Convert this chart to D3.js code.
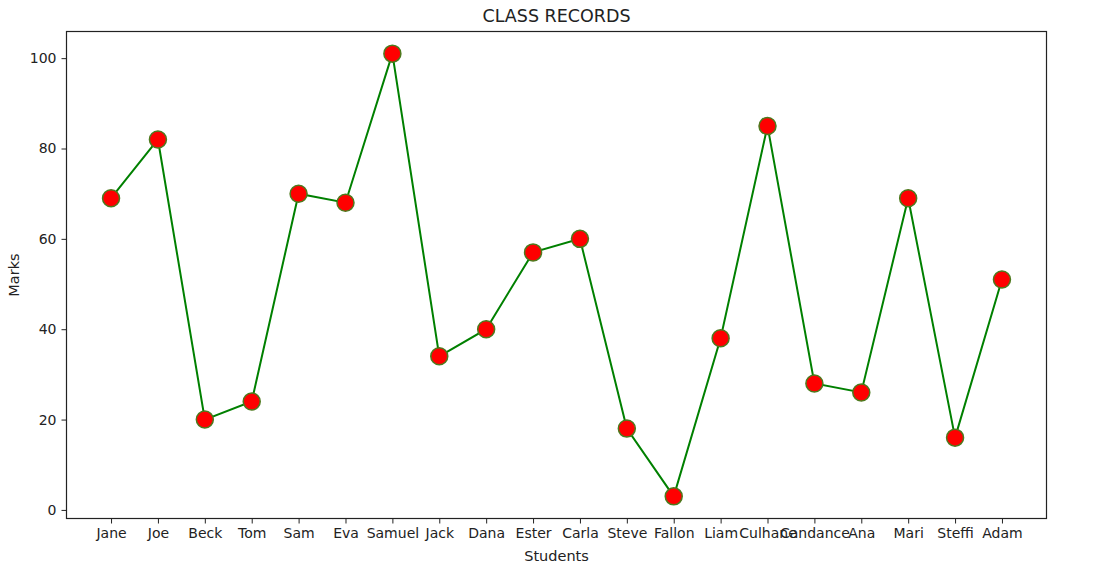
<!DOCTYPE html>
<html><head><meta charset="utf-8">
<script src="https://cdn.jsdelivr.net/npm/d3@7"></script>
<style>body{margin:0;background:#fff;} text{font-family:"DejaVu Sans",sans-serif;fill:#222;}</style>
</head><body><svg id="c" width="1100" height="579"></svg>
<script>
const students = ["Jane","Joe","Beck","Tom","Sam","Eva","Samuel","Jack","Dana","Ester","Carla","Steve","Fallon","Liam","Culhane","Candance","Ana","Mari","Steffi","Adam"];
const marks = [69,82,20,24,70,68,101,34,40,57,60,18,3,38,85,28,26,69,16,51];
const yTicks = [0,20,40,60,80,100];

const svg = d3.select("#c");
const L=66.5, R=1046.5, T=31.5, B=518.5;
const n = students.length;
const x = d3.scaleLinear().domain([-0.95, n-1+0.95]).range([L,R]);
const ymin = d3.min(marks), ymax = d3.max(marks), pad=(ymax-ymin)*0.05;
const y = d3.scaleLinear().domain([ymin-pad, ymax+pad]).range([B,T]);

const xAxis = d3.axisBottom(x).tickValues(d3.range(n)).tickFormat(i=>students[i]).tickSizeOuter(0).tickSize(5).tickPadding(5);
const gx = svg.append("g").attr("transform",`translate(0,${B})`).call(xAxis);
const yAxis = d3.axisLeft(y).tickValues(yTicks).tickSizeOuter(0).tickSize(5).tickPadding(5);
const gy = svg.append("g").attr("transform",`translate(${L},0)`).call(yAxis);
[gx,gy].forEach(g=>{g.select(".domain").remove();g.selectAll("line").attr("stroke","#222").attr("stroke-width",1);g.selectAll("text").attr("font-size",14).attr("fill","#222").style("font-family","DejaVu Sans");});

svg.append("rect").attr("x",L).attr("y",T).attr("width",R-L).attr("height",B-T).attr("fill","none").attr("stroke","#222").attr("stroke-width",1.2);

const line = d3.line().x((d,i)=>x(i)).y(d=>y(d));
svg.append("path").datum(marks).attr("d",line).attr("fill","none").attr("stroke","#008000").attr("stroke-width",2);
svg.selectAll("circle.m").data(marks).join("circle").attr("class","m")
  .attr("cx",(d,i)=>x(i)).attr("cy",d=>y(d)).attr("r",8.5)
  .attr("fill","#ff0000").attr("stroke","#4d7a1e").attr("stroke-width",1.5);

svg.append("text").attr("x",(L+R)/2).attr("y",22).attr("text-anchor","middle").attr("font-size",17.5).text("CLASS RECORDS");
svg.append("text").attr("x",(L+R)/2).attr("y",561).attr("text-anchor","middle").attr("font-size",14.5).text("Students");
svg.append("text").attr("transform",`translate(19,${(T+B)/2}) rotate(-90)`).attr("text-anchor","middle").attr("font-size",14.5).text("Marks");
</script></body></html>
